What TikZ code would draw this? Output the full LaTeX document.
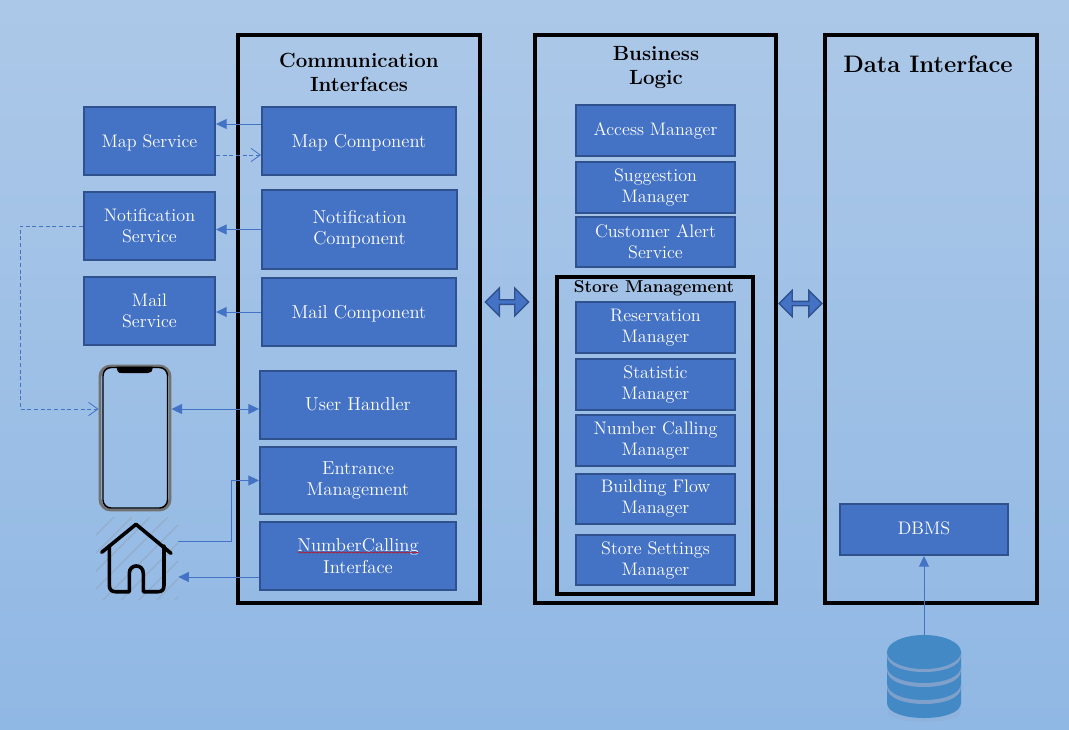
\documentclass[tikz,border=0pt]{standalone}
\usepackage{fontspec}
\usetikzlibrary{arrows.meta,shapes.arrows,decorations.pathmorphing}
\definecolor{boxfill}{HTML}{4472C4}
\definecolor{boxline}{HTML}{2F528F}
\definecolor{bgtop}{RGB}{172,200,232}
\definecolor{bgbot}{RGB}{144,184,228}
\definecolor{dbblue}{RGB}{66,137,198}
\definecolor{dbband}{RGB}{126,160,202}
\def\bxfs{13.6}
\newcommand{\dn}[1]{\raisebox{-1.2pt}[\height][\depth]{#1}}
\newcommand{\up}[1]{\raisebox{0.6pt}[\height][\depth]{#1}}
\tikzset{
  boxnode/.style={draw=boxline,fill=boxfill,line width=1.5pt,text=white,align=center,inner sep=0pt,
    font=\fontsize{\bxfs}{15.8}\selectfont\addfontfeature{FakeBold=1.2}},
  panel/.style={draw=black,line width=3pt},
  conn/.style={draw=boxfill,line width=.75pt},
  solidtip/.style={-{Triangle[length=8pt,width=7.5pt]}},
  bothtip/.style={{Triangle[length=8pt,width=7.5pt]}-{Triangle[length=8pt,width=7.5pt]}},
  dashtip/.style={line width=.6pt,dash pattern=on 3pt off 2pt,-{Straight Barb[length=7pt,width=10pt]}},
  title/.style={align=center,font=\fontsize{15.4}{18}\selectfont\bfseries,text=black,inner sep=0pt},
  bigarrow/.style={double arrow,draw=boxline,fill=boxfill,line width=1pt,inner sep=0pt,
    double arrow head extend=2.5pt,double arrow tip angle=90}
}
\newcommand{\bx}[6]{%
  \node[boxnode,minimum width={(#4-#2)*0.75pt},minimum height={(#5-#3)*0.75pt}] (#1) at ({(#2+#4)/2},{(#3+#5)/2}) {#6};}
\begin{document}
\begin{tikzpicture}[x=0.75pt,y=-0.75pt]
\useasboundingbox (0,0) rectangle (1069,729);
\shade[top color=bgtop,bottom color=bgbot] (0,0) rectangle (1069,729);

% panels
\draw[panel] (238,35) rectangle (480,603);
\draw[panel] (535,35) rectangle (776,603);
\draw[panel] (825,35) rectangle (1037,603);
\draw[panel] (557,277) rectangle (753,594);

% titles
\node[title] (tcomm) at (359,72) {Communication\\Interfaces};
\node[title] (tbiz) at (656,68) {Business\\Logic};
\node[title,font=\fontsize{17.9}{20}\selectfont\bfseries] (tdata) at (928,64) {Data Interface};
\node[title,font=\fontsize{12.9}{15}\selectfont\bfseries] (tstore) at (654,288.5) {Store Management};

% left services
\bx{maps}{84}{107}{215}{175}{\dn{Map Service}}
\bx{notifs}{84}{192}{215}{260}{Notification\\Service}
\bx{mails}{84}{277}{215}{345}{Mail\\Service}

% communication interfaces
\def\bxfs{14}
\bx{mapc}{262}{107}{456}{175}{\dn{Map Component}}
\bx{notifc}{262}{190}{457}{269}{Notification\\Component}
\bx{mailc}{262}{278}{456}{346}{\dn{Mail Component}}
\bx{userh}{260}{371}{456}{439}{\up{User Handler}}
\bx{entr}{260}{447}{456}{514}{Entrance\\Management}
\bx{numc}{260}{522}{456}{590}{NumberCalling\\Interface}
\draw[red!85!black,line width=.4pt,decorate,decoration={snake,amplitude=.5pt,segment length=3pt}] (298,552.5) -- (418,552.5);
\def\bxfs{13.6}

% business logic
\bx{access}{576}{105}{735}{156}{Access Manager}
\bx{sugg}{576}{162}{735}{213}{Suggestion\\Manager}
\bx{alert}{576}{217}{735}{267}{Customer Alert\\Service}
\bx{resv}{576}{302}{735}{353}{Reservation\\Manager}
\bx{stat}{576}{359}{735}{410}{Statistic\\Manager}
\bx{ncall}{576}{415}{735}{466}{Number Calling\\Manager}
\bx{bflow}{576}{474}{735}{524}{Building Flow\\Manager}
\bx{sset}{576}{535}{735}{585}{Store Settings\\Manager}

% data
\bx{dbms}{840}{504}{1008}{555}{\up{DBMS}}

% big arrows
\node[bigarrow,minimum width=21pt,minimum height=32.5pt] (ba1) at (507,302) {};
\node[bigarrow,minimum width=19.5pt,minimum height=32pt] (ba2) at (800.5,303.5) {};

% phone
\node[draw=black!55,line width=2.2pt,rounded corners=8pt,minimum width=52.5pt,minimum height=108pt,inner sep=0pt] (phone) at (135,438) {};
\draw[black,line width=1.1pt,rounded corners=6pt] (103,367.5) rectangle (167.5,508);
\fill[black] (116.5,366.5) -- (153,366.5) .. controls (152,372) and (151,373) .. (148,373) -- (121.5,373) .. controls (118,373) and (117.5,372) .. (116.5,366.5) -- cycle;

% home icon
\node[minimum width=61.5pt,minimum height=62.25pt,inner sep=0pt] (home) at (137,558.5) {};
\begin{scope}
  \clip (96,517) rectangle (178,600);
  \foreach \k in {0,1,...,9}
    \draw[black!45,opacity=.3,line width=1pt] ({13+\k*18},600) -- ({13+\k*18+83},517);
\end{scope}
\draw[black,line width=2.7pt,line cap=round,line join=round] (101.7,552.3) -- (136,524.3) -- (171,553.3);
\draw[black,line width=2.7pt,line cap=round,line join=round] (109.3,546) -- (109.3,585) .. controls (109.3,590) and (112,591.7) .. (115.5,591.7) -- (129.3,591.7) -- (129.3,573.3) .. controls (129.3,563.5) and (143.3,563.5) .. (143.3,573.3) -- (143.3,591.7) -- (158,591.7) .. controls (162,591.7) and (164,590) .. (164,585) -- (164,546);

% database
\fill[black!50,opacity=.08] (924,712) ellipse [x radius=37,y radius=10];
\node[minimum width=55.5pt,minimum height=60pt,inner sep=0pt] (db) at (924,675) {};
\fill[dbblue] (887,652) -- (887,703) .. controls (887,723) and (961,723) .. (961,703) -- (961,652) -- cycle;
\foreach \yy in {651.5,666.5,683.5}
  \fill[dbband] (887,\yy) .. controls (887,{\yy+22}) and (961,{\yy+22}) .. (961,\yy) -- (961,{\yy+4}) .. controls (961,{\yy+26}) and (887,{\yy+26}) .. (887,{\yy+4}) -- cycle;
\fill[dbblue] (924,652) ellipse [x radius=37,y radius=17];

% connectors
\draw[conn,solidtip] ([yshift=12.75pt]mapc.west) -- ([yshift=12.75pt]mapc.west -| maps.east);
\draw[conn,dashtip] ([yshift=-10.5pt]maps.east) -- ([yshift=-10.5pt]maps.east -| mapc.west);
\draw[conn,solidtip] (notifc.west) -- (notifc.west -| notifs.east);
\draw[conn,solidtip] (mailc.west) -- (mailc.west -| mails.east);
\draw[conn,dashtip] (notifs.west) -- ++(-63,0) |- ([yshift=21.75pt]phone.west);
\draw[conn,bothtip] ([yshift=21.75pt]phone.east) -- ([yshift=21.75pt]phone.east -| userh.west);
\draw[conn,solidtip] ([yshift=12.75pt]home.east) -- ++(53,0) |- (entr.west);
\draw[conn,solidtip] ([yshift=-15.75pt]numc.west) -- ([yshift=-15.75pt]numc.west -| home.east);
\draw[conn,solidtip] (db.north) -- (dbms.south -| db.north);
\end{tikzpicture}
\end{document}
